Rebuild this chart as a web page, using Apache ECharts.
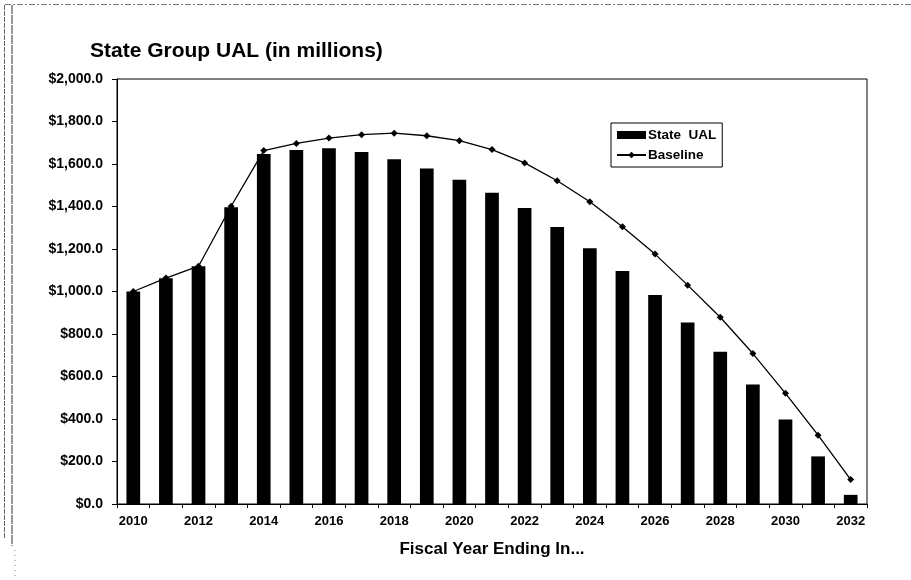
<!DOCTYPE html>
<html>
<head>
<meta charset="utf-8">
<script src="https://cdn.jsdelivr.net/npm/echarts@6/dist/echarts.min.js"></script>
<style>
  html, body { margin: 0; padding: 0; background: #fff; }
  #chart { width: 911px; height: 580px; }
</style>
</head>
<body>
<div id="chart"></div>
<script>
// Fiscal years on the x axis
const years = ['2010','2011','2012','2013','2014','2015','2016','2017','2018','2019','2020','2021',
               '2022','2023','2024','2025','2026','2027','2028','2029','2030','2031','2032'];

// State group unfunded actuarial liability, $ millions
const stateUAL = [1000, 1062, 1119, 1396, 1647, 1666, 1674, 1656, 1622, 1579, 1526, 1465,
                  1393, 1303, 1204, 1097, 983, 854, 716, 562, 398, 224, 43];

// Baseline projection, $ millions
const baseline = [1000, 1063, 1119, 1401, 1663, 1697, 1722, 1738, 1745, 1733, 1710, 1668,
                  1605, 1521, 1422, 1305, 1176, 1030, 879, 708, 521, 324, 115];

// Value axis range and step
const yMin = 0, yMax = 2000, yStep = 200;

const FONT = '"Liberation Sans", Arial, sans-serif';

const chart = echarts.init(document.getElementById('chart'), null, { renderer: 'canvas' });

chart.setOption({
  backgroundColor: '#ffffff',
  animation: false,
  title: {
    text: 'State Group UAL (in millions)',
    left: 85,
    top: 36,
    textStyle: { fontFamily: FONT, fontSize: 21, fontWeight: 'bold', color: '#000' }
  },
  legend: {
    orient: 'vertical',
    left: 611,
    top: 123,
    padding: [5, 6, 5, 5],
    itemGap: 6,
    itemWidth: 29,
    itemHeight: 8,
    borderColor: '#000',
    borderWidth: 1,
    backgroundColor: '#fff',
    textStyle: { fontFamily: FONT, fontSize: 13.5, fontWeight: 'bold', color: '#000', padding: [0, 0, 0, -3] },
    data: [
      { name: 'State  UAL', icon: 'rect' },
      { name: 'Baseline' }
    ]
  },
  grid: {
    left: 117,
    right: 44,
    top: 79,
    bottom: 76,
    show: true,
    borderColor: '#000',
    borderWidth: 1,
    backgroundColor: 'transparent'
  },
  xAxis: {
    type: 'category',
    data: years,
    boundaryGap: true,
    name: 'Fiscal Year Ending In...',
    nameLocation: 'middle',
    nameGap: 37,
    nameTextStyle: { fontFamily: FONT, fontSize: 17, fontWeight: 'bold', color: '#000' },
    axisLine: { lineStyle: { color: '#000', width: 1 } },
    axisTick: { show: true, interval: 0, length: 4, lineStyle: { color: '#000' } },
    axisLabel: {
      interval: 1,
      margin: 11,
      fontFamily: FONT, fontSize: 13, fontWeight: 'bold', color: '#000'
    },
    splitLine: { show: false }
  },
  yAxis: {
    type: 'value',
    min: yMin,
    max: yMax,
    interval: yStep,
    axisLine: { show: true, lineStyle: { color: '#000', width: 1 } },
    axisTick: { show: true, length: 5, lineStyle: { color: '#000' } },
    axisLabel: {
      margin: 14,
      fontFamily: FONT, fontSize: 14, fontWeight: 'bold', color: '#000',
      formatter: v => '$' + v.toLocaleString('en-US', { minimumFractionDigits: 1, maximumFractionDigits: 1 })
    },
    splitLine: { show: false }
  },
  series: [
    {
      name: 'State  UAL',
      type: 'bar',
      data: stateUAL,
      barWidth: '42%',
      itemStyle: { color: '#000' },
      z: 2
    },
    {
      name: 'Baseline',
      type: 'line',
      data: baseline,
      symbol: 'diamond',
      symbolSize: 7,
      showAllSymbol: true,
      lineStyle: { color: '#000', width: 1.3 },
      itemStyle: { color: '#000' },
      z: 3
    }
  ],
  graphic: [
    // scanned page edges
    { type: 'line', shape: { x1: 5, y1: 4.5, x2: 911, y2: 4.5 }, style: { stroke: '#777', lineWidth: 1, lineDash: [6, 2, 2, 2] }, silent: true },
    { type: 'line', shape: { x1: 4.5, y1: 5, x2: 4.5, y2: 538 }, style: { stroke: '#666', lineWidth: 1, lineDash: [5, 1] }, silent: true },
    { type: 'line', shape: { x1: 12, y1: 5, x2: 12, y2: 546 }, style: { stroke: '#333', lineWidth: 1, lineDash: [9, 1] }, silent: true },
    { type: 'line', shape: { x1: 15, y1: 550, x2: 15, y2: 580 }, style: { stroke: '#888', lineWidth: 1, lineDash: [1, 4] }, silent: true }
  ]
});
</script>
</body>
</html>
